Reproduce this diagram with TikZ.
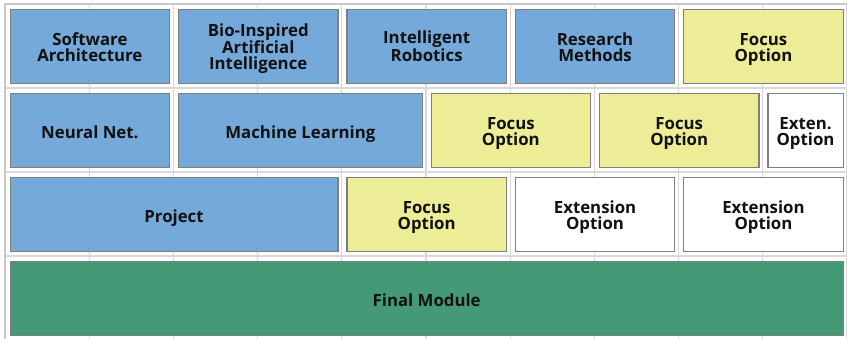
\documentclass[tikz,border=0pt]{standalone}
\usepackage{fontspec}
\setmainfont{Open Sans}
\definecolor{cblue}{HTML}{74A9DA}
\definecolor{cyellow}{HTML}{EDEC97}
\definecolor{cgreen}{HTML}{449A77}
\definecolor{cborder}{HTML}{7F7F7F}
\definecolor{cgrid}{HTML}{D9D9D9}
\definecolor{cframe}{HTML}{C8C8C8}
\definecolor{ctext}{HTML}{111111}
\tikzset{
  gridline/.style={draw=cgrid, line width=1.2pt},
  frameline/.style={draw=cframe, line width=2pt},
  cellbase/.style={draw=cborder, line width=1.3pt, inner sep=0pt,
    minimum height=74pt, anchor=north west},
  celltext/.style={inner sep=0pt, align=center, text=ctext,
    font=\fontsize{16.8}{16}\selectfont\bfseries, anchor=base},
  bluebox/.style={cellbase, fill=cblue},
  yellowbox/.style={cellbase, fill=cyellow},
  whitebox/.style={cellbase, fill=white},
  greenbox/.style={cellbase, fill=cgreen},
}
% #1 name, #2 first column, #3 span, #4 row, #5 style, #6 number of lines, #7 text
\newcommand\cellbox[7]{%
  \pgfmathsetmacro\cellX{5+84.2*#2+4.5}%
  \pgfmathsetmacro\cellW{84.2*#3-9}%
  \pgfmathsetmacro\cellY{4+84*#4+5}%
  \ifcase#6\or\def\cellMid{8.3}\or\def\cellMid{6.4}\else\def\cellMid{7.3}\fi
  \pgfmathsetmacro\cellOff{\cellMid+(#6-1)*8}%
  \node[#5, minimum width=\cellW pt] (#1) at (\cellX,\cellY) {};%
  \node[celltext, yshift=-\cellOff pt] (#1-t) at (#1.center) {#7};%
}
\begin{document}
\begin{tikzpicture}[x=1pt,y=-1pt]
\useasboundingbox (0,0) rectangle (847,338);
\fill[white] (0,0) rectangle (847,338);
% spreadsheet grid
\foreach \k in {1,...,10} \draw[gridline] ({5+84.2*\k},4) -- ({5+84.2*\k},340);
\foreach \k in {1,...,4} \draw[gridline] (5,{4+84*\k}) -- (847,{4+84*\k});
\draw[frameline] (5,340) -- (5,4) -- (847,4);
% row 1
\cellbox{sa}{0}{2}{0}{bluebox}{2}{Software\\Architecture}
\cellbox{bio}{2}{2}{0}{bluebox}{3}{Bio-Inspired\\Artificial\\Intelligence}
\cellbox{ir}{4}{2}{0}{bluebox}{2}{Intelligent\\Robotics}
\cellbox{rm}{6}{2}{0}{bluebox}{2}{Research\\Methods}
\cellbox{fo1}{8}{2}{0}{yellowbox}{2}{Focus\\Option}
% row 2
\cellbox{nn}{0}{2}{1}{bluebox}{1}{Neural Net.}
\cellbox{ml}{2}{3}{1}{bluebox}{1}{Machine Learning}
\cellbox{fo2}{5}{2}{1}{yellowbox}{2}{Focus\\Option}
\cellbox{fo3}{7}{2}{1}{yellowbox}{2}{Focus\\Option}
\cellbox{ex1}{9}{1}{1}{whitebox}{2}{Exten.\\Option}
% row 3
\cellbox{pr}{0}{4}{2}{bluebox}{1}{Project}
\cellbox{fo4}{4}{2}{2}{yellowbox}{2}{Focus\\Option}
\cellbox{ex2}{6}{2}{2}{whitebox}{2}{Extension\\Option}
\cellbox{ex3}{8}{2}{2}{whitebox}{2}{Extension\\Option}
% row 4
\cellbox{fm}{0}{10}{3}{greenbox}{1}{Final Module}
\end{tikzpicture}
\end{document}
